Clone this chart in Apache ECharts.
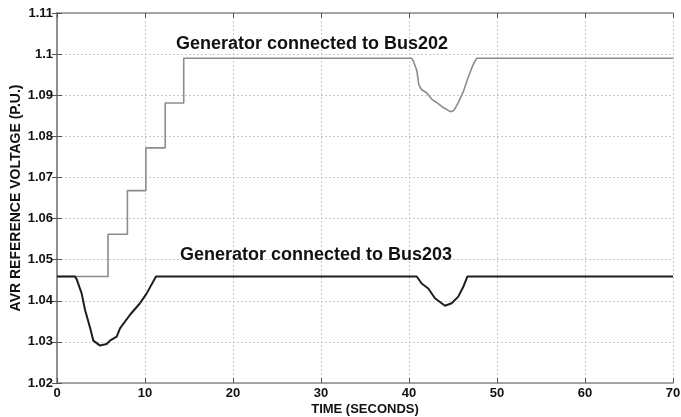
<!DOCTYPE html>
<html>
<head>
<meta charset="utf-8">
<script src="https://cdn.jsdelivr.net/npm/echarts@6/dist/echarts.min.js"></script>
<style>
html,body{margin:0;padding:0;background:#fff;}
#chart{width:681px;height:417px;}
</style>
</head>
<body>
<div id="chart"></div>
<script>
// Time (s) and AVR reference voltage (p.u.)
const bus202Time = [0, 5.8, 5.8, 8.0, 8.0, 10.1, 10.1, 12.3, 12.3, 14.4, 14.4, 40.3, 40.5, 40.9, 41.1, 41.4, 42.0, 42.6, 43.1, 43.9, 44.7, 45.1, 45.6, 46.2, 46.7, 47.3, 47.7, 70];
const bus202Volt = [1.0459, 1.0459, 1.0562, 1.0562, 1.0668, 1.0668, 1.0772, 1.0772, 1.0881, 1.0881, 1.0990, 1.0990, 1.0983, 1.0959, 1.0927, 1.0914, 1.0906, 1.0890, 1.0883, 1.0870, 1.0860, 1.0863, 1.0882, 1.0910, 1.0942, 1.0975, 1.0990, 1.0990];
const bus203Time = [0, 2.05, 2.24, 2.8, 3.18, 3.75, 4.13, 4.89, 5.65, 6.02, 6.78, 7.16, 8.3, 9.43, 10.19, 11.25, 40.88, 41.44, 42.19, 42.95, 44.09, 44.85, 45.6, 46.17, 46.63, 70];
const bus203Volt = [1.0459, 1.0459, 1.0452, 1.0418, 1.0378, 1.0335, 1.0303, 1.0291, 1.0295, 1.0303, 1.0313, 1.0333, 1.0366, 1.0394, 1.0418, 1.0459, 1.0459, 1.0442, 1.0430, 1.0406, 1.0388, 1.0394, 1.0410, 1.0434, 1.0459, 1.0459];
const xTicks = {min: 0, max: 70, interval: 10};
const yTicks = {min: 1.02, max: 1.11, interval: 0.01};
const labels = ['Generator connected to Bus202', 'Generator connected to Bus203'];

const zip = (t, v) => t.map((x, i) => [x, v[i]]);
const font = 'Liberation Sans, Arial, sans-serif';
const fmtY = v => String(parseFloat(v.toFixed(2)));

const chart = echarts.init(document.getElementById('chart'), null, {renderer: 'canvas'});
const axisCommon = {
  axisLine: {show: true, lineStyle: {color: '#8a8a8a', width: 1.5}},
  axisTick: {show: true, inside: true, length: 5, lineStyle: {color: '#555', width: 1}},
  splitLine: {show: false}
};
chart.setOption({
  animation: false,
  backgroundColor: '#fff',
  grid: {left: 57, right: 8, top: 13, bottom: 34, containLabel: false, outerBoundsMode: 'none'},
  xAxis: [
    Object.assign({
      type: 'value', min: xTicks.min, max: xTicks.max, interval: xTicks.interval,
      name: 'TIME (SECONDS)', nameLocation: 'middle', nameGap: 20, nameMoveOverlap: false,
      nameTextStyle: {fontFamily: font, fontWeight: 'bold', fontSize: 13, color: '#111'},
      axisLabel: {fontFamily: font, fontWeight: 'bold', fontSize: 13, color: '#111', margin: 4}
    }, axisCommon, {splitLine: {show: true, lineStyle: {color: '#c8c8c8', type: [2, 2], width: 1}}}),
    Object.assign({
      type: 'value', position: 'top', min: xTicks.min, max: xTicks.max, interval: xTicks.interval,
      axisLabel: {show: false}
    }, axisCommon)
  ],
  yAxis: [
    Object.assign({
      type: 'value', min: yTicks.min, max: yTicks.max, interval: yTicks.interval,
      name: 'AVR REFERENCE VOLTAGE (P.U.)', nameLocation: 'middle', nameGap: 34, nameMoveOverlap: false,
      nameTextStyle: {fontFamily: font, fontWeight: 'bold', fontSize: 14, color: '#111'},
      axisLabel: {fontFamily: font, fontWeight: 'bold', fontSize: 13, color: '#111', margin: 4, formatter: fmtY}
    }, axisCommon, {splitLine: {show: true, lineStyle: {color: '#c8c8c8', type: [2, 2], width: 1}}}),
    Object.assign({
      type: 'value', position: 'right', min: yTicks.min, max: yTicks.max, interval: yTicks.interval,
      axisLabel: {show: false}
    }, axisCommon)
  ],
  series: [
    {
      name: 'Bus202', type: 'line', data: zip(bus202Time, bus202Volt),
      showSymbol: false, symbol: 'none', smooth: false,
      lineStyle: {color: '#8c8c8c', width: 1.6}, z: 2
    },
    {
      name: 'Bus203', type: 'line', data: zip(bus203Time, bus203Volt),
      showSymbol: false, symbol: 'none', smooth: false,
      lineStyle: {color: '#1e1e1e', width: 2}, z: 3
    }
  ],
  graphic: [
    {type: 'text', x: 312, y: 44, style: {text: labels[0], fontFamily: font, fontWeight: 'bold', fontSize: 18, fill: '#111', align: 'center', verticalAlign: 'middle'}, z: 10},
    {type: 'text', x: 316, y: 255, style: {text: labels[1], fontFamily: font, fontWeight: 'bold', fontSize: 18, fill: '#111', align: 'center', verticalAlign: 'middle'}, z: 10}
  ]
});
</script>
</body>
</html>
